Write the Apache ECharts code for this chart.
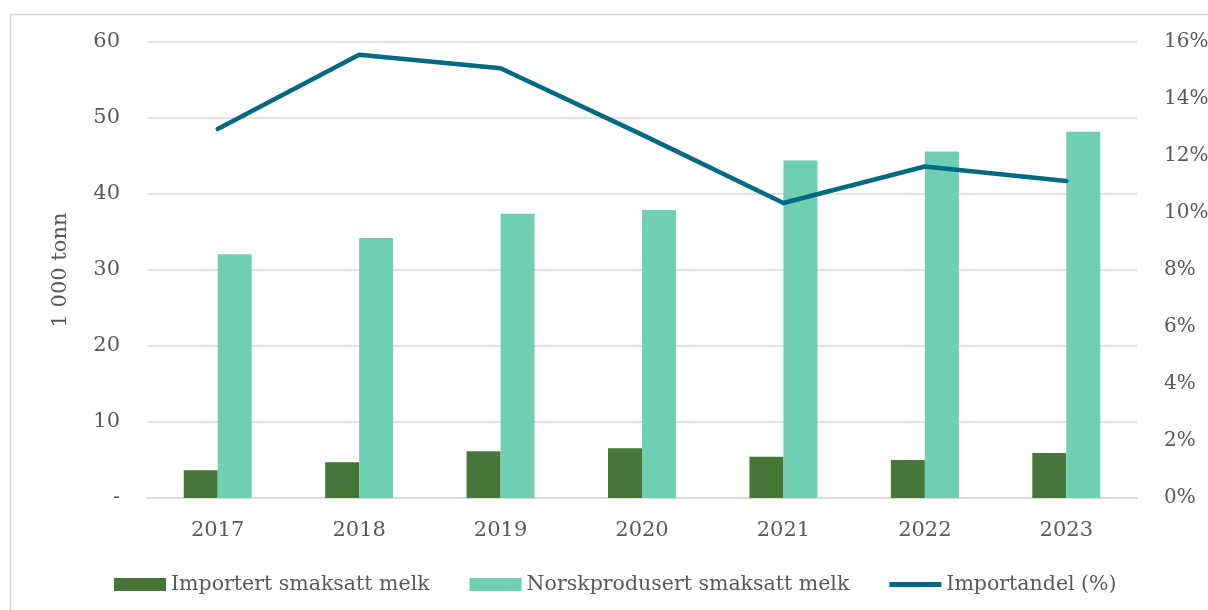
<!DOCTYPE html>
<html>
<head>
<meta charset="utf-8">
<script src="https://cdn.jsdelivr.net/npm/echarts@6/dist/echarts.min.js"></script>
<style>
html,body{margin:0;padding:0;background:#fff;}
#c{width:1208px;height:610px;}
</style>
</head>
<body>
<div id="c"></div>
<script>
const categories = ['2017','2018','2019','2020','2021','2022','2023'];
const importert = [3.64, 4.7, 6.14, 6.54, 5.44, 5.0, 5.92];
const norsk = [32.07, 34.2, 37.4, 37.9, 44.4, 45.6, 48.2];
const importandel = [12.95, 15.55, 15.08, 12.75, 10.35, 11.63, 11.12];
const seriesNames = ['Importert smaksatt melk', 'Norskprodusert smaksatt melk', 'Importandel (%)'];
const leftTicks = [0, 10, 20, 30, 40, 50, 60];
const rightTicks = [0, 2, 4, 6, 8, 10, 12, 14, 16];

const FONT = 'DejaVu Serif';
const TXT = '#595959';
const chart = echarts.init(document.getElementById('c'), null, {renderer: 'canvas'});
chart.setOption({
  animation: false,
  backgroundColor: '#fff',
  textStyle: {fontFamily: FONT},
  graphic: [{
    type: 'rect', left: 8, top: 12, shape: {width: 1300, height: 700},
    style: {fill: 'none', stroke: '#d9d9d9', lineWidth: 1.5}, silent: true, z: -1
  }],
  grid: {left: 147, right: 71, top: 42, bottom: 112, containLabel: false, outerBoundsMode: 'none'},
  legend: {
    top: 569, left: 109,
    itemWidth: 52, itemHeight: 13, itemGap: 40,
    textStyle: {fontFamily: FONT, fontSize: 20.5, color: TXT},
    data: [
      {name: seriesNames[0], icon: 'rect'},
      {name: seriesNames[1], icon: 'rect'},
      {name: seriesNames[2], icon: 'path://M0,0 L52,0 L52,5 L0,5 Z'}
    ]
  },
  xAxis: {
    type: 'category', data: categories,
    axisLine: {show: true, lineStyle: {color: '#d9d9d9', width: 1.5}},
    axisTick: {show: false},
    axisLabel: {fontFamily: FONT, fontSize: 21, color: TXT, margin: 22}
  },
  yAxis: [{
    type: 'value', min: 0, max: 60, interval: 10,
    name: '1 000 tonn', nameLocation: 'middle', nameGap: 76, nameRotate: 90,
    nameTextStyle: {fontFamily: FONT, fontSize: 21, color: TXT},
    axisLine: {show: false}, axisTick: {show: false},
    axisLabel: {fontFamily: FONT, fontSize: 21, color: TXT, margin: 27,
      formatter: v => leftTicks.includes(v) ? (v === 0 ? '-' : String(v)) : ''},
    splitLine: {show: true, lineStyle: {color: '#d9d9d9', width: 1.5}}
  }, {
    type: 'value', min: 0, max: 16, interval: 2, position: 'right',
    axisLine: {show: false}, axisTick: {show: false},
    axisLabel: {fontFamily: FONT, fontSize: 20, color: TXT, margin: 27,
      formatter: v => rightTicks.includes(v) ? v + '%' : ''},
    splitLine: {show: false}
  }],
  series: [{
    name: seriesNames[0], type: 'bar', data: importert, yAxisIndex: 0,
    barWidth: 34, barGap: '0%', itemStyle: {color: '#467638'}
  }, {
    name: seriesNames[1], type: 'bar', data: norsk, yAxisIndex: 0,
    barWidth: 34, barGap: '0%', itemStyle: {color: '#6fcfb2'}
  }, {
    name: seriesNames[2], type: 'line', data: importandel, yAxisIndex: 1,
    symbol: 'none', lineStyle: {color: '#006a80', width: 4.5, cap: 'round', join: 'round'},
    itemStyle: {color: '#006a80'}, z: 5
  }]
});
</script>
</body>
</html>
